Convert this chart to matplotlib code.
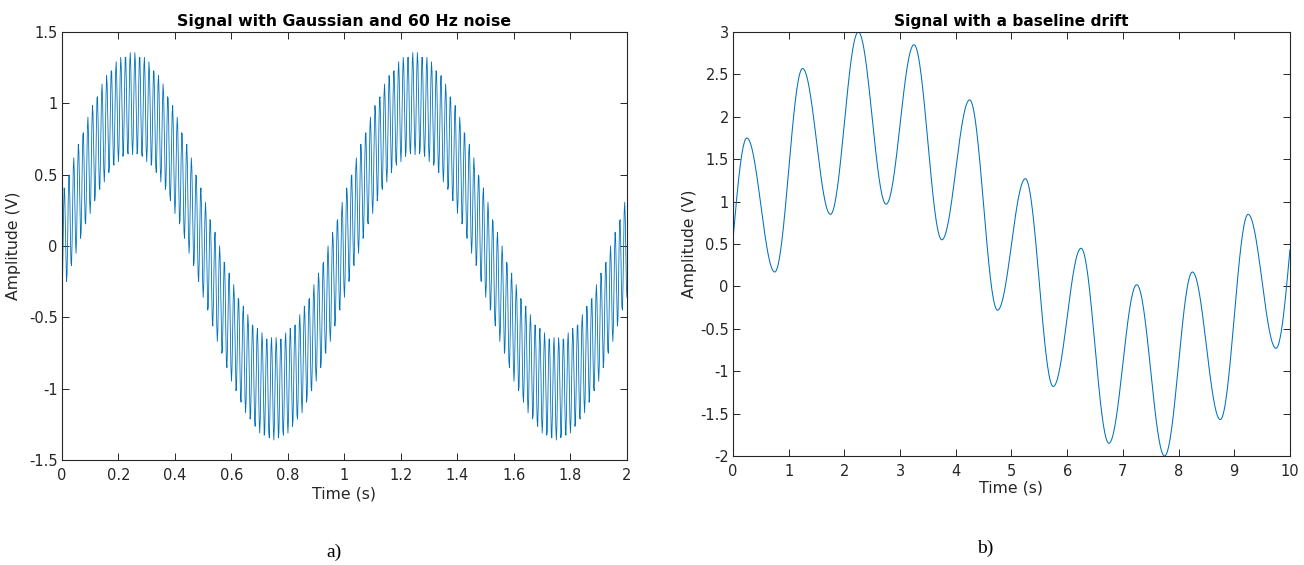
import numpy as np
import matplotlib.pyplot as plt

# panel a: 1 Hz sine with a 60 Hz hum, sampled at 500 Hz
fs = 500
sig_freq = 1.0
sig_amp = 1.0
hum_freq = 60.0
hum_amp = 0.36

# panel b: extrema of the drifting 1 Hz signal
start_t, start_v = 0.0, 0.55
peak_t = [0.25, 1.25, 2.25, 3.25, 4.25, 5.25, 6.25, 7.25, 8.25, 9.25]
peak_v = [1.75, 2.57, 3.00, 2.85, 2.20, 1.27, 0.45, 0.02, 0.17, 0.85]
trough_t = [0.75, 1.75, 2.75, 3.75, 4.75, 5.75, 6.75, 7.75, 8.75, 9.75]
trough_v = [0.17, 0.85, 0.97, 0.55, -0.28, -1.18, -1.85, -2.00, -1.57, -0.73]
end_t, end_v = 10.0, 0.43

blue = '#0072BD'
axcol = '#262626'

t1 = np.arange(0, 2 + 1.0 / fs, 1.0 / fs)
y1 = sig_amp * np.sin(2 * np.pi * sig_freq * t1) - hum_amp * np.cos(2 * np.pi * hum_freq * t1)

# build panel b curve from the extrema, half-cosine between each pair
ext_t = [val for pair in zip(peak_t, trough_t) for val in pair]
ext_v = [val for pair in zip(peak_v, trough_v) for val in pair]
t2 = []
y2 = []
s = np.linspace(0, 1, 60)
t2.append(start_t + s * (ext_t[0] - start_t))
y2.append(start_v + (ext_v[0] - start_v) * np.sin(np.pi / 2 * s))
for i in range(len(ext_t) - 1):
    t2.append(ext_t[i] + s[1:] * (ext_t[i + 1] - ext_t[i]))
    y2.append(ext_v[i] + (ext_v[i + 1] - ext_v[i]) * (1 - np.cos(np.pi * s[1:])) / 2)
t2.append(ext_t[-1] + s[1:] * (end_t - ext_t[-1]))
y2.append(ext_v[-1] + (end_v - ext_v[-1]) * (1 - np.cos(np.pi / 2 * s[1:])))
t2 = np.concatenate(t2)
y2 = np.concatenate(y2)

fig = plt.figure(figsize=(13.04, 5.65), dpi=100)
ax1 = fig.add_axes([0.0475, 0.1858, 0.4333, 0.7575])
ax2 = fig.add_axes([0.5621, 0.1929, 0.4271, 0.7504])


def matlab_axes(ax):
    for sp in ax.spines.values():
        sp.set_color(axcol)
        sp.set_linewidth(0.8)
    ax.tick_params(direction='in', length=5, width=0.7, colors=axcol,
                   labelsize=10.5, top=True, right=True, pad=3)
    ax.tick_params(axis='x', pad=6)
    for lab in ax.get_xticklabels() + ax.get_yticklabels():
        lab.set_color(axcol)


ax1.plot(t1, y1, color=blue, lw=0.6)
ax1.set_xlim(0, 2)
ax1.set_ylim(-1.5, 1.5)
ax1.set_xticks(np.arange(0, 2.01, 0.2))
ax1.set_xticklabels(['0', '0.2', '0.4', '0.6', '0.8', '1', '1.2', '1.4', '1.6', '1.8', '2'])
ax1.set_yticks([-1.5, -1, -0.5, 0, 0.5, 1, 1.5])
ax1.set_yticklabels(['-1.5', '-1', '-0.5', '0', '0.5', '1', '1.5'])
ax1.set_title('Signal with Gaussian and 60 Hz noise', fontsize=11.3, fontweight='bold', pad=4)
ax1.set_xlabel('Time (s)', fontsize=11.3, color=axcol, labelpad=2)
ax1.set_ylabel('Amplitude (V)', fontsize=11.3, color=axcol, labelpad=6)
matlab_axes(ax1)

ax2.plot(t2, y2, color=blue, lw=0.75)
ax2.set_xlim(0, 10)
ax2.set_ylim(-2, 3)
ax2.set_xticks(range(0, 11))
ax2.set_yticks([-2, -1.5, -1, -0.5, 0, 0.5, 1, 1.5, 2, 2.5, 3])
ax2.set_yticklabels(['-2', '-1.5', '-1', '-0.5', '0', '0.5', '1', '1.5', '2', '2.5', '3'])
ax2.set_title('Signal with a baseline drift', fontsize=11.1, fontweight='bold', pad=4)
ax2.set_xlabel('Time (s)', fontsize=11.3, color=axcol, labelpad=1)
ax2.set_ylabel('Amplitude (V)', fontsize=11.3, color=axcol, labelpad=2)
matlab_axes(ax2)

fig.text(334 / 1304, 1 - 552 / 565, 'a)', family='Liberation Serif', fontsize=14,
         ha='center', va='center')
fig.text(985 / 1304, 1 - 548 / 565, 'b)', family='Liberation Serif', fontsize=14,
         ha='center', va='center')

fig.savefig('out.png', dpi=100)
